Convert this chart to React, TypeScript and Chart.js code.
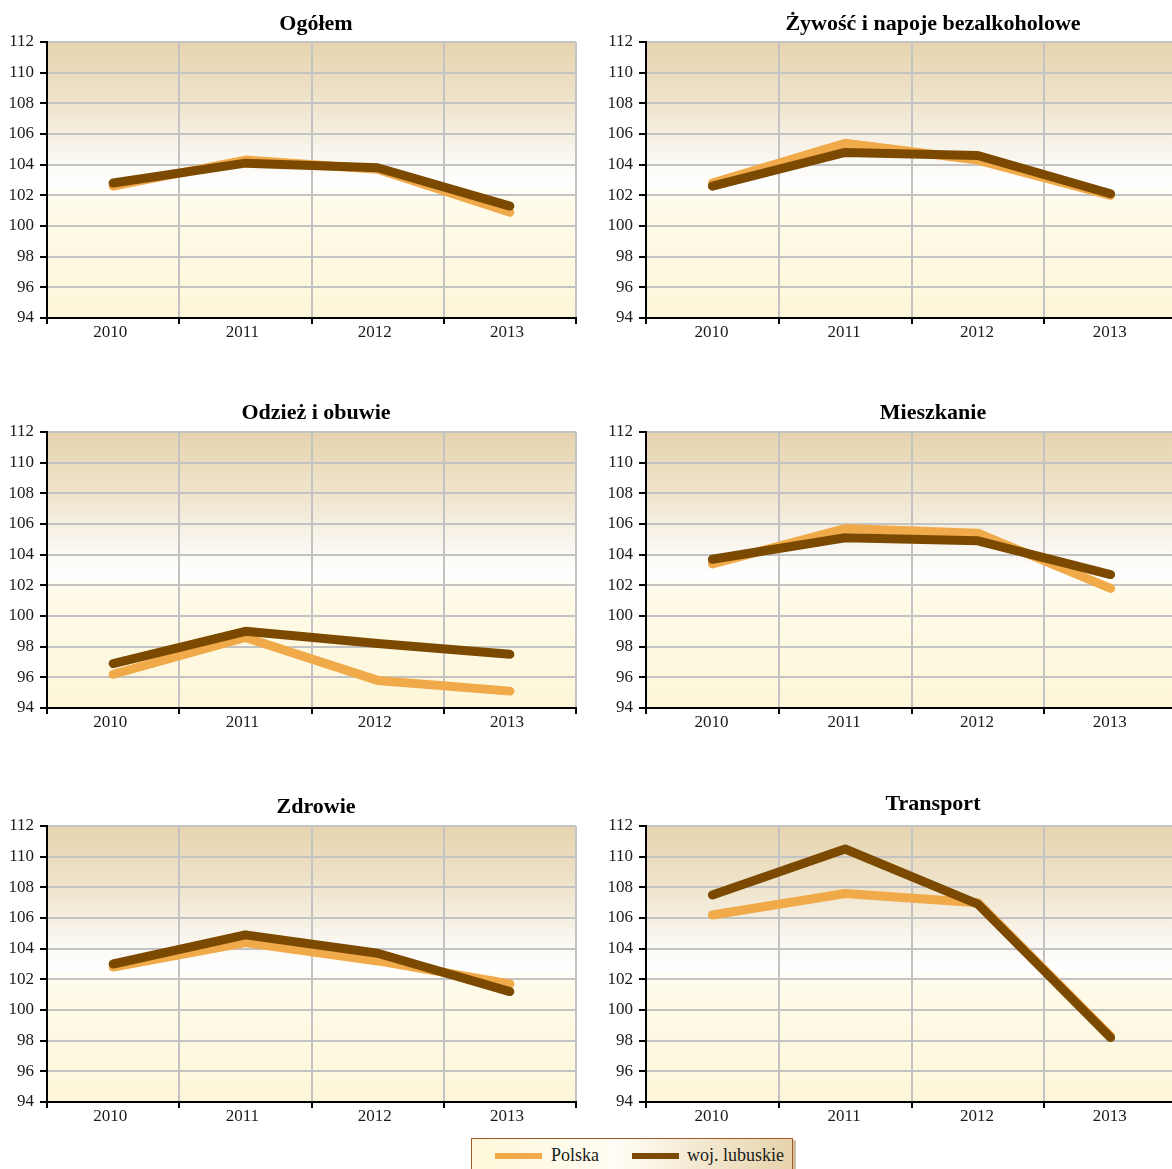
import React, { useEffect, useRef } from 'react';
import { Chart, registerables } from 'chart.js';

Chart.register(...registerables);

// ---------- data ----------
const years = ['2010', '2011', '2012', '2013'];
const seriesNames = ['Polska', 'woj. lubuskie'];
const panelTitles = [
  'Ogółem',
  'Żywość i napoje bezalkoholowe',
  'Odzież i obuwie',
  'Mieszkanie',
  'Zdrowie',
  'Transport',
];

const polskaOgolem = [102.6, 104.3, 103.7, 100.9];
const lubuskieOgolem = [102.8, 104.1, 103.8, 101.3];

const polskaZywnosc = [102.8, 105.4, 104.3, 102.0];
const lubuskieZywnosc = [102.6, 104.8, 104.6, 102.1];

const polskaOdziez = [96.2, 98.6, 95.8, 95.1];
const lubuskieOdziez = [96.9, 99.0, 98.2, 97.5];

const polskaMieszkanie = [103.4, 105.7, 105.4, 101.8];
const lubuskieMieszkanie = [103.7, 105.1, 104.9, 102.7];

const polskaZdrowie = [102.8, 104.4, 103.2, 101.7];
const lubuskieZdrowie = [103.0, 104.9, 103.7, 101.2];

const polskaTransport = [106.2, 107.6, 107.0, 98.3];
const lubuskieTransport = [107.5, 110.5, 106.9, 98.2];

const yMin = 94;
const yMax = 112;
const yStep = 2;

const polskaSeries = [polskaOgolem, polskaZywnosc, polskaOdziez, polskaMieszkanie, polskaZdrowie, polskaTransport];
const lubuskieSeries = [lubuskieOgolem, lubuskieZywnosc, lubuskieOdziez, lubuskieMieszkanie, lubuskieZdrowie, lubuskieTransport];

// ---------- styling / layout ----------
const COLOR_PL = '#f0aa4a';
const COLOR_LB = '#7b4a00';
const FONT = '"Liberation Serif", "Times New Roman", serif';

const panelLayout = [
  { left: 0, top: 0, yw: 47, pr: 24, tx: 316, ty: 30, lo: -3 },
  { left: 600, top: 0, yw: 46, pr: 23, tx: 333, ty: 30, lo: -1 },
  { left: 0, top: 390, yw: 47, pr: 24, tx: 316, ty: 29, lo: -3 },
  { left: 600, top: 390, yw: 46, pr: 23, tx: 333, ty: 29, lo: -1 },
  { left: 0, top: 784, yw: 47, pr: 24, tx: 316, ty: 29, lo: -3 },
  { left: 600, top: 784, yw: 46, pr: 23, tx: 333, ty: 26, lo: -1 },
];

const bgPlugin = {
  id: 'panelBg',
  beforeDraw(chart: any) {
    const { ctx, chartArea: a } = chart;
    if (!a) return;
    const g = ctx.createLinearGradient(0, a.top, 0, a.bottom);
    g.addColorStop(0, '#e6d4ae');
    g.addColorStop(0.22, '#efe4cc');
    g.addColorStop(0.44, '#fbf9f4');
    g.addColorStop(0.52, '#ffffff');
    g.addColorStop(0.58, '#fffbe9');
    g.addColorStop(1, '#fdf6d9');
    ctx.save();
    ctx.fillStyle = g;
    ctx.fillRect(a.left, a.top, a.right - a.left, a.bottom - a.top);
    ctx.restore();
  },
};

const titlePlugin = {
  id: 'panelTitle',
  afterDraw(chart: any, _args: any, opts: any) {
    const { ctx } = chart;
    ctx.save();
    ctx.font = `bold 22px ${FONT}`;
    ctx.fillStyle = '#000';
    ctx.textAlign = 'center';
    ctx.textBaseline = 'alphabetic';
    ctx.fillText(opts.text, opts.x, opts.y);
    ctx.restore();
  },
};

function Panel({ index }: { index: number }) {
  const ref = useRef<HTMLCanvasElement | null>(null);
  const L = panelLayout[index];

  useEffect(() => {
    if (!ref.current) return;
    const chart = new Chart(ref.current, {
      type: 'line',
      data: {
        labels: years,
        datasets: [
          {
            label: seriesNames[0],
            data: polskaSeries[index],
            borderColor: COLOR_PL,
            backgroundColor: COLOR_PL,
            borderWidth: 9,
            borderCapStyle: 'round',
            borderJoinStyle: 'round',
            pointRadius: 0,
            tension: 0,
            order: 2,
          },
          {
            label: seriesNames[1],
            data: lubuskieSeries[index],
            borderColor: COLOR_LB,
            backgroundColor: COLOR_LB,
            borderWidth: 9,
            borderCapStyle: 'round',
            borderJoinStyle: 'round',
            pointRadius: 0,
            tension: 0,
            order: 1,
          },
        ],
      },
      options: {
        animation: false,
        responsive: true,
        maintainAspectRatio: false,
        layout: {
          autoPadding: false,
          padding: { top: 42, right: L.pr, left: 0, bottom: 0 },
        },
        plugins: {
          legend: { display: false },
          tooltip: { enabled: false },
          panelTitle: { text: panelTitles[index], x: L.tx, y: L.ty },
        } as any,
        scales: {
          x: {
            type: 'category',
            offset: true,
            grid: {
              offset: true,
              color: '#c3c3c3',
              lineWidth: 2,
              tickColor: '#000',
              tickLength: 6,
              tickWidth: 2,
            },
            border: { color: '#000', width: 2 },
            ticks: {
              font: { family: FONT, size: 17 },
              color: '#1a1a1a',
              padding: -2,
              labelOffset: L.lo,
              maxRotation: 0,
              autoSkip: false,
            },
            afterFit(s: any) {
              s.height = 30;
            },
          },
          y: {
            min: yMin,
            max: yMax,
            ticks: {
              stepSize: yStep,
              font: { family: FONT, size: 17 },
              color: '#1a1a1a',
              padding: 6,
            },
            grid: {
              color: '#c3c3c3',
              lineWidth: 2,
              tickColor: '#000',
              tickLength: 7,
              tickWidth: 2,
            },
            border: { color: '#000', width: 2 },
            afterFit(s: any) {
              s.width = L.yw;
            },
          },
        },
      } as any,
      plugins: [bgPlugin, titlePlugin],
    });
    return () => chart.destroy();
  }, [index]);

  return (
    <div style={{ position: 'absolute', left: L.left, top: L.top, width: 600, height: 348 }}>
      <canvas ref={ref} />
    </div>
  );
}

function LegendBox() {
  const sample = (color: string, left: number) => (
    <div style={{ position: 'absolute', left, top: 14, width: 47, height: 6, background: color }} />
  );
  const label = (text: string, left: number) => (
    <div style={{ position: 'absolute', left, top: 5, fontSize: 18, lineHeight: '22px', color: '#1a1a1a', whiteSpace: 'nowrap' }}>{text}</div>
  );
  return (
    <div
      style={{
        position: 'absolute',
        left: 471,
        top: 1138,
        width: 322,
        height: 40,
        boxSizing: 'border-box',
        border: '1px solid #a5582a',
        boxShadow: '3px 2px 0 #cdbf9f',
        background: 'linear-gradient(to right, #fef7d9 0%, #fffdf4 45%, #e6d3ab 100%)',
        fontFamily: FONT,
      }}
    >
      {sample(COLOR_PL, 23)}
      {label(seriesNames[0], 79)}
      {sample(COLOR_LB, 160)}
      {label(seriesNames[1], 215)}
    </div>
  );
}

export default function App() {
  return (
    <div
      style={{
        position: 'fixed',
        left: 0,
        top: 0,
        width: 1172,
        height: 1169,
        overflow: 'hidden',
        background: '#ffffff',
      }}
    >
      {panelTitles.map((_, i) => (
        <Panel key={i} index={i} />
      ))}
      <LegendBox />
    </div>
  );
}
